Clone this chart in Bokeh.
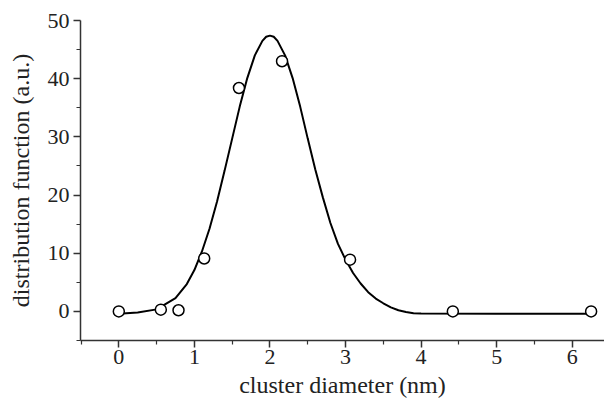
from bokeh.plotting import figure
from bokeh.models import Range1d, FixedTicker
from bokeh.embed import file_html
from bokeh.resources import INLINE

# measured points
diam_pts = [0.0, 0.556, 0.79, 1.13, 1.59, 2.16, 3.06, 4.42, 6.25]
dist_pts = [0.0, 0.3, 0.2, 9.1, 38.4, 43.0, 8.9, 0.0, 0.0]

# fitted curve
diam_fit = [0.0, 0.25, 0.5, 0.75, 0.9, 1.0, 1.1, 1.2, 1.3, 1.4, 1.5, 1.6, 1.7, 1.8, 1.9, 1.95,
            2.0, 2.05, 2.1, 2.2, 2.3, 2.4, 2.5, 2.6, 2.7, 2.8, 2.9, 3.0, 3.1, 3.2, 3.3, 3.4,
            3.5, 3.6, 3.7, 3.8, 3.9, 4.0, 5.0, 6.25]
dist_fit = [-0.4, -0.2, 0.35, 2.3, 4.7, 7.1, 10.3, 14.2, 18.9, 24.2, 29.7, 35.2, 40.1, 44.0, 46.5, 47.2,
            47.4, 47.2, 46.5, 44.0, 40.1, 35.2, 29.7, 24.4, 19.6, 15.2, 11.6, 8.9, 6.6, 4.8, 3.3, 2.2,
            1.4, 0.7, 0.2, -0.1, -0.3, -0.35, -0.4, -0.4]

x_ticks = [0, 1, 2, 3, 4, 5, 6]
y_ticks = [0, 10, 20, 30, 40, 50]

FONT = "Liberation Serif"
TXT = "#222222"

p = figure(width=604, height=400, output_backend="svg", toolbar_location=None,
           x_range=Range1d(-0.507, 6.427), y_range=Range1d(-5, 50),
           min_border_left=80, min_border_right=0, min_border_top=20, min_border_bottom=60)
p.outline_line_color = None
p.grid.visible = False
p.background_fill_color = "white"

p.line(diam_fit, dist_fit, line_color="black", line_width=2)
p.scatter(diam_pts, dist_pts, marker="circle", size=11, fill_color="white",
          line_color="black", line_width=1.5)

for ax in (p.xaxis[0], p.yaxis[0]):
    ax.axis_line_color = "#333333"
    ax.axis_line_width = 1.5
    ax.major_tick_line_color = "#333333"
    ax.minor_tick_line_color = "#333333"
    ax.major_tick_line_width = 1.5
    ax.minor_tick_line_width = 1.2
    ax.major_tick_in = 0
    ax.major_tick_out = 7
    ax.minor_tick_in = 0
    ax.minor_tick_out = 4
    ax.major_label_text_font = FONT
    ax.major_label_text_font_size = "22px"
    ax.major_label_text_color = TXT
    ax.axis_label_text_font = FONT
    ax.axis_label_text_font_size = "24px"
    ax.axis_label_text_font_style = "normal"
    ax.axis_label_text_color = TXT

p.xaxis.ticker = FixedTicker(ticks=x_ticks, minor_ticks=[-0.5, 0.5, 1.5, 2.5, 3.5, 4.5, 5.5])
p.yaxis.ticker = FixedTicker(ticks=y_ticks, minor_ticks=[-5, 5, 15, 25, 35, 45])
p.xaxis.axis_label = "cluster diameter (nm)"
p.yaxis.axis_label = "distribution function (a.u.)"
p.xaxis.major_label_standoff = 2
p.xaxis.axis_label_standoff = 5
p.yaxis.major_label_standoff = 4
p.yaxis.axis_label_standoff = 11

open("out.html", "w").write(file_html(p, INLINE))
